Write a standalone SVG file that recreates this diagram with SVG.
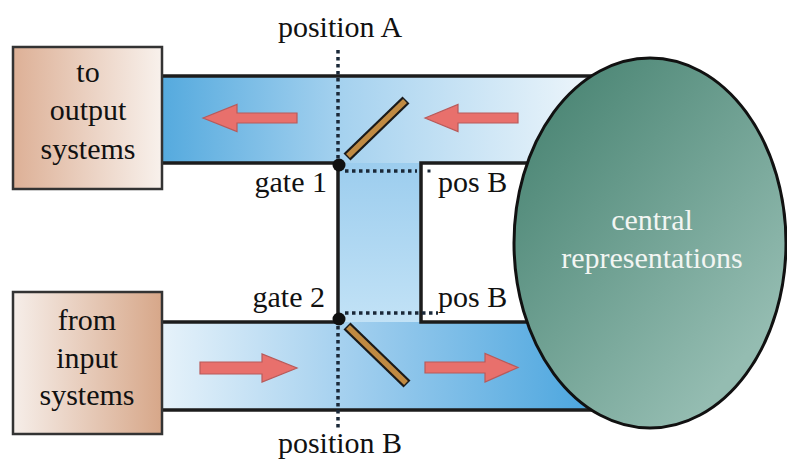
<svg xmlns="http://www.w3.org/2000/svg" width="787" height="463" viewBox="0 0 787 463">
<defs>
<linearGradient id="gTop" gradientUnits="userSpaceOnUse" x1="162" y1="0" x2="595" y2="0">
<stop offset="0" stop-color="#55aade"/><stop offset="0.42" stop-color="#a6d2ef"/><stop offset="1" stop-color="#eef6fb"/>
</linearGradient>
<linearGradient id="gBot" gradientUnits="userSpaceOnUse" x1="162" y1="0" x2="595" y2="0">
<stop offset="0" stop-color="#e6f2fa"/><stop offset="0.45" stop-color="#a0ceee"/><stop offset="1" stop-color="#4aa5de"/>
</linearGradient>
<linearGradient id="gVert" gradientUnits="userSpaceOnUse" x1="0" y1="163" x2="0" y2="322">
<stop offset="0" stop-color="#9ccdee"/><stop offset="1" stop-color="#c2e2f6"/>
</linearGradient>
<linearGradient id="gOut" x1="0" y1="0" x2="1" y2="0">
<stop offset="0" stop-color="#ddb096"/><stop offset="1" stop-color="#f8f1ec"/>
</linearGradient>
<linearGradient id="gIn" x1="0" y1="0" x2="1" y2="0">
<stop offset="0" stop-color="#f6eee9"/><stop offset="1" stop-color="#d7a789"/>
</linearGradient>
<linearGradient id="gEll" x1="0.15" y1="0.1" x2="0.8" y2="0.85">
<stop offset="0" stop-color="#4d8776"/><stop offset="1" stop-color="#94bcb1"/>
</linearGradient>
<style>
.wall{fill:none;stroke:#1c1c1c;stroke-width:3.5}
.dots{fill:none;stroke:#1a2838;stroke-width:3.5;stroke-dasharray:3.5 3.5}
.arrow{fill:#e8706c;stroke:#b85a5a;stroke-width:1.2}
.rodO{stroke:#1a1a1a;stroke-width:10}
.rodI{stroke:#c08a42;stroke-width:5.5}
.box{stroke:#333;stroke-width:2.5}
text{font-family:'Liberation Serif','DejaVu Serif',serif;font-size:30px}
</style>
</defs>
<rect width="787" height="463" fill="#ffffff"/>

<g id="connectors">
<rect x="162" y="76" width="460" height="87" fill="url(#gTop)"/>
<rect x="338" y="163" width="83" height="159" fill="url(#gVert)"/>
<rect x="162" y="322" width="460" height="88" fill="url(#gBot)"/>
<rect x="421" y="163" width="190" height="159" fill="#ffffff"/>
<path class="wall" d="M162,76 H610"/>
<path class="wall" d="M162,163 H338 V322 H162"/>
<path class="wall" d="M610,163 H421 V322 H610"/>
<path class="wall" d="M162,410 H610"/>
<path class="dots" d="M338,50 V160"/>
<path class="dots" d="M338,326 V430"/>
<path class="dots" d="M345,171 H417"/>
<rect x="427.5" y="169.5" width="3" height="3" fill="#1a2838"/>
<path class="dots" d="M345,313 H438"/>
<polygon class="arrow" points="203,118 237,104.5 237,113 297,113 297,123 237,123 237,131.5"/>
<polygon class="arrow" points="425,118 458,104.5 458,113 518,113 518,123 458,123 458,131.5"/>
<polygon class="arrow" points="200,362 262,362 262,354 297,368 262,382 262,374 200,374"/>
<polygon class="arrow" points="425,362 485,362 485,353.5 518,367.5 485,382 485,373 425,373"/>
</g>

<g fill="#111111">
<g id="node-output">
<rect class="box" x="13" y="47" width="149" height="142" fill="url(#gOut)"/>
<text x="88" y="82" text-anchor="middle" font-family="Liberation Serif">to</text>
<text x="88" y="120" text-anchor="middle" font-family="Liberation Serif">output</text>
<text x="88" y="159" text-anchor="middle" font-family="Liberation Serif">systems</text>
</g>

<g id="node-input">
<rect class="box" x="13" y="292" width="149" height="142" fill="url(#gIn)"/>
<text x="87" y="330" text-anchor="middle" font-family="Liberation Serif">from</text>
<text x="87" y="368" text-anchor="middle" font-family="Liberation Serif">input</text>
<text x="87" y="405" text-anchor="middle" font-family="Liberation Serif">systems</text>
</g>

<g id="gate1">
<line class="rodO" x1="347" y1="157" x2="406" y2="100"/>
<line class="rodI" x1="348" y1="156" x2="405" y2="101"/>
<circle cx="339" cy="165" r="6.5" fill="#111111"/>
<text x="327" y="192" text-anchor="end" font-family="Liberation Serif">gate 1</text>
</g>

<g id="gate2">
<line class="rodO" x1="347" y1="326" x2="407" y2="384"/>
<line class="rodI" x1="348" y1="327" x2="406" y2="383"/>
<circle cx="339" cy="319" r="6.5" fill="#111111"/>
<text x="325" y="307" text-anchor="end" font-family="Liberation Serif">gate 2</text>
</g>

<g id="node-central">
<ellipse cx="650" cy="243" rx="136" ry="185" fill="url(#gEll)" stroke="#111111" stroke-width="3"/>
<text x="652" y="230" text-anchor="middle" fill="#f2f5f2" font-family="Liberation Serif">central</text>
<text x="652" y="268" text-anchor="middle" fill="#f2f5f2" font-family="Liberation Serif">representations</text>
</g>

<g id="labels">
<text x="340" y="37" text-anchor="middle" font-family="Liberation Serif">position A</text>
<text x="340" y="453" text-anchor="middle" font-family="Liberation Serif">position B</text>
<text x="438" y="192" font-family="Liberation Serif">pos B</text>
<text x="438" y="307" font-family="Liberation Serif">pos B</text>
</g>
</g>
</svg>
